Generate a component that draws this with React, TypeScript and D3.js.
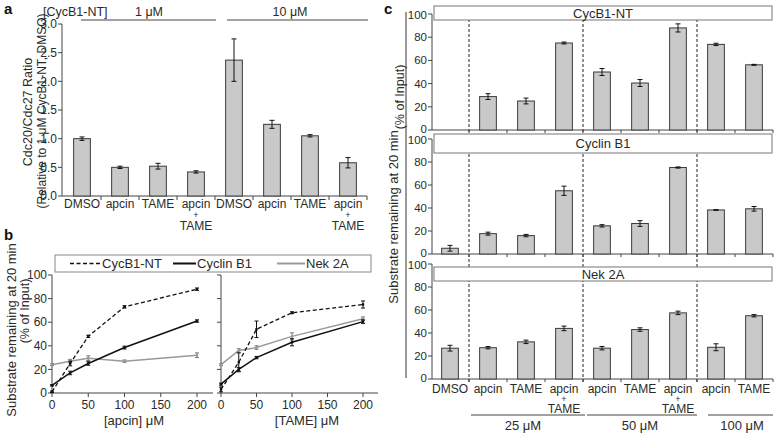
import React from "react";
import * as d3 from "d3";

// ---------- Panel a data ----------
const aCategories = ["DMSO", "apcin", "TAME", "apcin+TAME", "DMSO", "apcin", "TAME", "apcin+TAME"];
const aValues = [1.0, 0.5, 0.52, 0.42, 2.37, 1.25, 1.05, 0.58];
const aErrors = [0.03, 0.02, 0.05, 0.02, 0.37, 0.07, 0.02, 0.09];
const aTicks = [0, 0.5, 1.0, 1.5, 2.0, 2.5, 3.0];
const aGroups = ["1 μM", "10 μM"];

// ---------- Panel b data ----------
const bDoses = [0, 25, 50, 100, 200];
const bTicksX = [0, 50, 100, 150, 200];
const bTicksY = [0, 20, 40, 60, 80, 100];
const bSeriesNames = ["CycB1-NT", "Cyclin B1", "Nek 2A"];
const apcinCycB1NT = [1, 25, 48, 73, 88];
const apcinCycB1NTErr = [0.6, 2, 1, 1, 1];
const apcinCyclinB1 = [6.5, 17, 25, 38.5, 61];
const apcinCyclinB1Err = [0.5, 1.5, 1.5, 1.2, 1];
const apcinNek2A = [24, 27, 29.5, 27, 32];
const apcinNek2AErr = [0.8, 1.5, 2, 1, 2];
const tameCycB1NT = [3, 26, 54, 68, 75];
const tameCycB1NTErr = [2, 8, 7, 0.8, 3];
const tameCyclinB1 = [7.5, 20, 30, 43, 60.5];
const tameCyclinB1Err = [0.8, 1.5, 1, 3, 1.5];
const tameNek2A = [24, 36, 38.5, 48, 63];
const tameNek2AErr = [0.8, 1.5, 1.5, 3, 1.5];

// ---------- Panel c data ----------
const cCategories = ["DMSO", "apcin", "TAME", "apcin+TAME", "apcin", "TAME", "apcin+TAME", "apcin", "TAME"];
const cPanels = ["CycB1-NT", "Cyclin B1", "Nek 2A"];
const cCycB1NT = [null, 28.8, 25, 75, 50, 40.5, 88, 73.8, 56.2];
const cCycB1NTErr = [0, 2.5, 2.5, 0.8, 3, 3, 3.5, 1, 0.4];
const cCyclinB1 = [5, 17.7, 16, 55, 24.5, 26.5, 75.2, 38.3, 39.3];
const cCyclinB1Err = [2.5, 1.3, 1, 4, 1, 2.5, 0.5, 0.3, 2];
const cNek2A = [26.8, 27.2, 32.3, 44, 26.8, 43, 57.5, 27.6, 55];
const cNek2AErr = [2.5, 1, 1.5, 2, 1.5, 1.5, 1.5, 3, 1];
const cTicks = [0, 20, 40, 60, 80, 100];
const cGroups = ["25 μM", "50 μM", "100 μM"];

const FONT = "'Liberation Sans', Arial, Helvetica, sans-serif";
const TXT = "#2a2a2a";
const AX = "#444";
const BAR = "#c9c9c9";
const BARS = "#3a3a3a";

function ErrBar({ x, y1, y2, cap = 2.5, stroke = "#111" }: any) {
  return (
    <g stroke={stroke} strokeWidth={1}>
      <line x1={x} x2={x} y1={y1} y2={y2} />
      <line x1={x - cap} x2={x + cap} y1={y1} y2={y1} />
      <line x1={x - cap} x2={x + cap} y1={y2} y2={y2} />
    </g>
  );
}

function CatLabel({ x, y, name, fs = 12, d1 = 10, d2 = 22 }: any) {
  if (name === "apcin+TAME") {
    return (
      <g fontFamily={FONT} fill={TXT} textAnchor="middle">
        <text x={x} y={y} fontSize={fs}>apcin</text>
        <text x={x} y={y + d1} fontSize={9}>+</text>
        <text x={x} y={y + d2} fontSize={fs}>TAME</text>
      </g>
    );
  }
  return (
    <text x={x} y={y} fontSize={fs} fontFamily={FONT} fill={TXT} textAnchor="middle">{name}</text>
  );
}

function PanelA() {
  const idx = aCategories.map((_, i) => String(i));
  const x = d3.scaleBand<string>().domain(idx).range([63, 367]).paddingInner(0.56).paddingOuter(0.28);
  const y = d3.scaleLinear().domain([0, 3]).range([196, 24]);
  const step = x.step();
  return (
    <g>
      <text x={4} y={14} fontSize={15} fontWeight="bold" fontFamily={FONT} fill="#111">a</text>
      <text x={43} y={16} fontSize={12.5} fontFamily={FONT} fill={TXT}>[CycB1-NT]</text>
      <text x={149} y={16} fontSize={12.5} fontFamily={FONT} fill={TXT} textAnchor="middle">{aGroups[0]}</text>
      <text x={290} y={16} fontSize={12.5} fontFamily={FONT} fill={TXT} textAnchor="middle">{aGroups[1]}</text>
      <line x1={81} x2={216} y1={20} y2={20} stroke={AX} strokeWidth={1} />
      <line x1={227} x2={368} y1={20} y2={20} stroke={AX} strokeWidth={1} />
      <g transform="translate(28,112) rotate(-90)">
        <text fontSize={12.5} fontFamily={FONT} fill={TXT} textAnchor="middle" dy="0.35em">Cdc20/Cdc27 Ratio</text>
      </g>
      <g transform="translate(42,111) rotate(-90)">
        <text fontSize={12} fontFamily={FONT} fill={TXT} textAnchor="middle" dy="0.35em">(Relative to 1 μM CycB1-NT, DMSO)</text>
      </g>
      <line x1={62} x2={62} y1={y(3)} y2={y(0)} stroke={AX} />
      {aTicks.map((t) => (
        <g key={t}>
          <line x1={58} x2={62} y1={y(t)} y2={y(t)} stroke={AX} />
          <text x={57} y={y(t)} dy="0.35em" fontSize={12} fontFamily={FONT} fill={TXT} textAnchor="end">{t.toFixed(1)}</text>
        </g>
      ))}
      <line x1={62} x2={367} y1={y(0)} y2={y(0)} stroke={AX} />
      {idx.map((k, i) => (
        <line key={k} x1={63 + step * (i + 1)} x2={63 + step * (i + 1)} y1={y(0)} y2={y(0) + 4} stroke={AX} />
      ))}
      {aValues.map((v, i) => {
        const cx = x(String(i))! + x.bandwidth() / 2;
        return (
          <g key={i}>
            <rect x={x(String(i))} y={y(v)} width={x.bandwidth()} height={y(0) - y(v)} fill={BAR} stroke={BARS} strokeWidth={1} />
            <ErrBar x={cx} y1={y(v + aErrors[i])} y2={y(v - aErrors[i])} />
            <CatLabel x={cx} y={208} name={aCategories[i]} d1={10} d2={22} />
          </g>
        );
      })}
    </g>
  );
}

function PanelB() {
  const y = d3.scaleLinear().domain([0, 100]).range([393, 275]);
  const xL = d3.scaleLinear().domain([0, 200]).range([52, 197]);
  const xR = d3.scaleLinear().domain([0, 200]).range([221, 363]);
  const styles = [
    { stroke: "#111", dash: "4,2.5", w: 1.3 },
    { stroke: "#111", dash: "", w: 1.5 },
    { stroke: "#9a9a9a", dash: "", w: 1.5 },
  ];
  const left = [
    [apcinCycB1NT, apcinCycB1NTErr],
    [apcinCyclinB1, apcinCyclinB1Err],
    [apcinNek2A, apcinNek2AErr],
  ];
  const right = [
    [tameCycB1NT, tameCycB1NTErr],
    [tameCyclinB1, tameCyclinB1Err],
    [tameNek2A, tameNek2AErr],
  ];
  const drawSeries = (xs: any, series: any[]) =>
    [2, 1, 0].map((si) => {
      const [vals, errs] = series[si];
      const line = d3.line<number>().x((_, i) => xs(bDoses[i])).y((d) => y(d));
      const st = styles[si];
      return (
        <g key={si}>
          <path d={line(vals)!} fill="none" stroke={st.stroke} strokeWidth={st.w} strokeDasharray={st.dash} />
          {vals.map((v: number, i: number) => (
            <g key={i}>
              <ErrBar x={xs(bDoses[i])} y1={y(v + errs[i])} y2={y(v - errs[i])} cap={2} stroke={si === 2 ? "#777" : "#111"} />
              <rect x={xs(bDoses[i]) - 1.2} y={y(v) - 1.2} width={2.4} height={2.4} fill={st.stroke} />
            </g>
          ))}
        </g>
      );
    });
  return (
    <g>
      <text x={4} y={240} fontSize={15} fontWeight="bold" fontFamily={FONT} fill="#111">b</text>
      <rect x={55} y={255} width={316} height={17} fill="#fff" stroke="#888" />
      <line x1={70} x2={100} y1={263.5} y2={263.5} stroke="#111" strokeWidth={1.5} strokeDasharray="4,2.5" />
      <text x={102} y={263.5} dy="0.35em" fontSize={13} fontFamily={FONT} fill={TXT}>{bSeriesNames[0]}</text>
      <line x1={173} x2={196} y1={263.5} y2={263.5} stroke="#111" strokeWidth={2} />
      <text x={197} y={263.5} dy="0.35em" fontSize={13} fontFamily={FONT} fill={TXT}>{bSeriesNames[1]}</text>
      <line x1={277} x2={305} y1={263.5} y2={263.5} stroke="#9a9a9a" strokeWidth={2} />
      <text x={306} y={263.5} dy="0.35em" fontSize={13} fontFamily={FONT} fill={TXT}>{bSeriesNames[2]}</text>
      <g transform="translate(11,330) rotate(-90)">
        <text fontSize={13} fontFamily={FONT} fill={TXT} textAnchor="middle" dy="0.35em">Substrate remaining at 20 min</text>
      </g>
      <g transform="translate(25,311) rotate(-90)">
        <text fontSize={12.5} fontFamily={FONT} fill={TXT} textAnchor="middle" dy="0.35em">(% of Input)</text>
      </g>
      <line x1={52} x2={52} y1={275} y2={393} stroke={AX} />
      {bTicksY.map((t) => (
        <g key={t}>
          <line x1={48} x2={52} y1={y(t)} y2={y(t)} stroke={AX} />
          <text x={47} y={y(t)} dy="0.35em" fontSize={12} fontFamily={FONT} fill={TXT} textAnchor="end">{t}</text>
        </g>
      ))}
      <line x1={52} x2={213} y1={393} y2={393} stroke={AX} />
      {bTicksX.map((t) => (
        <g key={t}>
          <line x1={xL(t)} x2={xL(t)} y1={393} y2={397} stroke={AX} />
          <text x={xL(t)} y={409} fontSize={12} fontFamily={FONT} fill={TXT} textAnchor="middle">{t}</text>
        </g>
      ))}
      <text x={134} y={425} fontSize={13} fontFamily={FONT} fill={TXT} textAnchor="middle">[apcin] μM</text>
      <line x1={221} x2={221} y1={275} y2={393} stroke={AX} />
      {bTicksY.map((t) => (
        <line key={t} x1={217} x2={221} y1={y(t)} y2={y(t)} stroke={AX} />
      ))}
      <line x1={221} x2={378} y1={393} y2={393} stroke={AX} />
      {bTicksX.map((t) => (
        <g key={t}>
          <line x1={xR(t)} x2={xR(t)} y1={393} y2={397} stroke={AX} />
          <text x={xR(t)} y={409} fontSize={12} fontFamily={FONT} fill={TXT} textAnchor="middle">{t}</text>
        </g>
      ))}
      <text x={307} y={425} fontSize={13} fontFamily={FONT} fill={TXT} textAnchor="middle">[TAME] μM</text>
      {drawSeries(xL, left)}
      {drawSeries(xR, right)}
    </g>
  );
}

function PanelC() {
  const idx = cCategories.map((_, i) => String(i));
  const x = d3.scaleBand<string>().domain(idx).range([431, 773]).paddingInner(0.56).paddingOuter(0.28);
  const step = x.step();
  const frames = [
    { bottom: 130, top: 14, box: [6, 20] },
    { bottom: 254, top: 139, box: [134, 153] },
    { bottom: 379, top: 264, box: [267, 281] },
  ];
  const data = [
    [cCycB1NT, cCycB1NTErr],
    [cCyclinB1, cCyclinB1Err],
    [cNek2A, cNek2AErr],
  ];
  const seps = [1, 4, 7].map((k) => 431 + step * k);
  return (
    <g>
      <text x={384} y={14} fontSize={15} fontWeight="bold" fontFamily={FONT} fill="#111">c</text>
      <line x1={406} x2={406} y1={12} y2={378} stroke="#333" />
      <g transform="translate(393,217) rotate(-90)">
        <text fontSize={13} fontFamily={FONT} fill={TXT} textAnchor="middle" dy="0.35em">Substrate remaining at 20 min</text>
      </g>
      <g transform="translate(400,97) rotate(-90)">
        <text fontSize={12.5} fontFamily={FONT} fill={TXT} textAnchor="middle" dy="0.35em">(% of Input)</text>
      </g>
      {seps.map((sx, i) => (
        <line key={i} x1={sx} x2={sx} y1={14} y2={382} stroke="#222" strokeDasharray="3,2" />
      ))}
      {frames.map((f, pi) => {
        const y = d3.scaleLinear().domain([0, 100]).range([f.bottom, f.top]);
        const [vals, errs] = data[pi] as any;
        return (
          <g key={pi}>
            <line x1={432} x2={432} y1={f.top} y2={f.bottom} stroke={AX} />
            {cTicks.map((t) => (
              <g key={t}>
                <line x1={428} x2={432} y1={y(t)} y2={y(t)} stroke={AX} />
                <text x={427} y={y(t) + (t === 0 ? -1 : t === 100 ? 1 : 0)} dy="0.35em" fontSize={11.5} fontFamily={FONT} fill={TXT} textAnchor="end">{t}</text>
              </g>
            ))}
            <line x1={432} x2={773} y1={f.bottom} y2={f.bottom} stroke={AX} />
            {idx.map((k, i) => (
              <line key={k} x1={431 + step * (i + 1)} x2={431 + step * (i + 1)} y1={f.bottom} y2={f.bottom + 3} stroke={AX} />
            ))}
            {vals.map((v: number | null, i: number) => {
              if (v == null) return null;
              const cx = x(String(i))! + x.bandwidth() / 2;
              return (
                <g key={i}>
                  <rect x={x(String(i))} y={y(v)} width={x.bandwidth()} height={f.bottom - y(v)} fill={BAR} stroke={BARS} strokeWidth={1} />
                  <ErrBar x={cx} y1={y(v + errs[i])} y2={y(v - errs[i])} />
                </g>
              );
            })}
            <rect x={434} y={f.box[0]} width={338} height={f.box[1] - f.box[0]} fill="#fff" stroke="#777" />
            <text x={603} y={(f.box[0] + f.box[1]) / 2} dy="0.35em" fontSize={13} fontFamily={FONT} fill={TXT} textAnchor="middle">{cPanels[pi]}</text>
          </g>
        );
      })}
      {cCategories.map((c, i) => (
        <CatLabel key={i} x={x(String(i))! + x.bandwidth() / 2} y={393} name={c} d1={9} d2={19.5} />
      ))}
      <line x1={471} x2={585} y1={415} y2={415} stroke={AX} />
      <line x1={587} x2={697} y1={415} y2={415} stroke={AX} />
      <line x1={708} x2={773} y1={415} y2={415} stroke={AX} />
      <text x={523} y={430} fontSize={13} fontFamily={FONT} fill={TXT} textAnchor="middle">{cGroups[0]}</text>
      <text x={640} y={430} fontSize={13} fontFamily={FONT} fill={TXT} textAnchor="middle">{cGroups[1]}</text>
      <text x={742} y={430} fontSize={13} fontFamily={FONT} fill={TXT} textAnchor="middle">{cGroups[2]}</text>
    </g>
  );
}

export default function App() {
  return (
    <svg width={777} height={434} style={{ position: "absolute", left: 0, top: 0, background: "#fff" }}>
      <rect width={777} height={434} fill="#fff" />
      <PanelA />
      <PanelB />
      <PanelC />
    </svg>
  );
}
